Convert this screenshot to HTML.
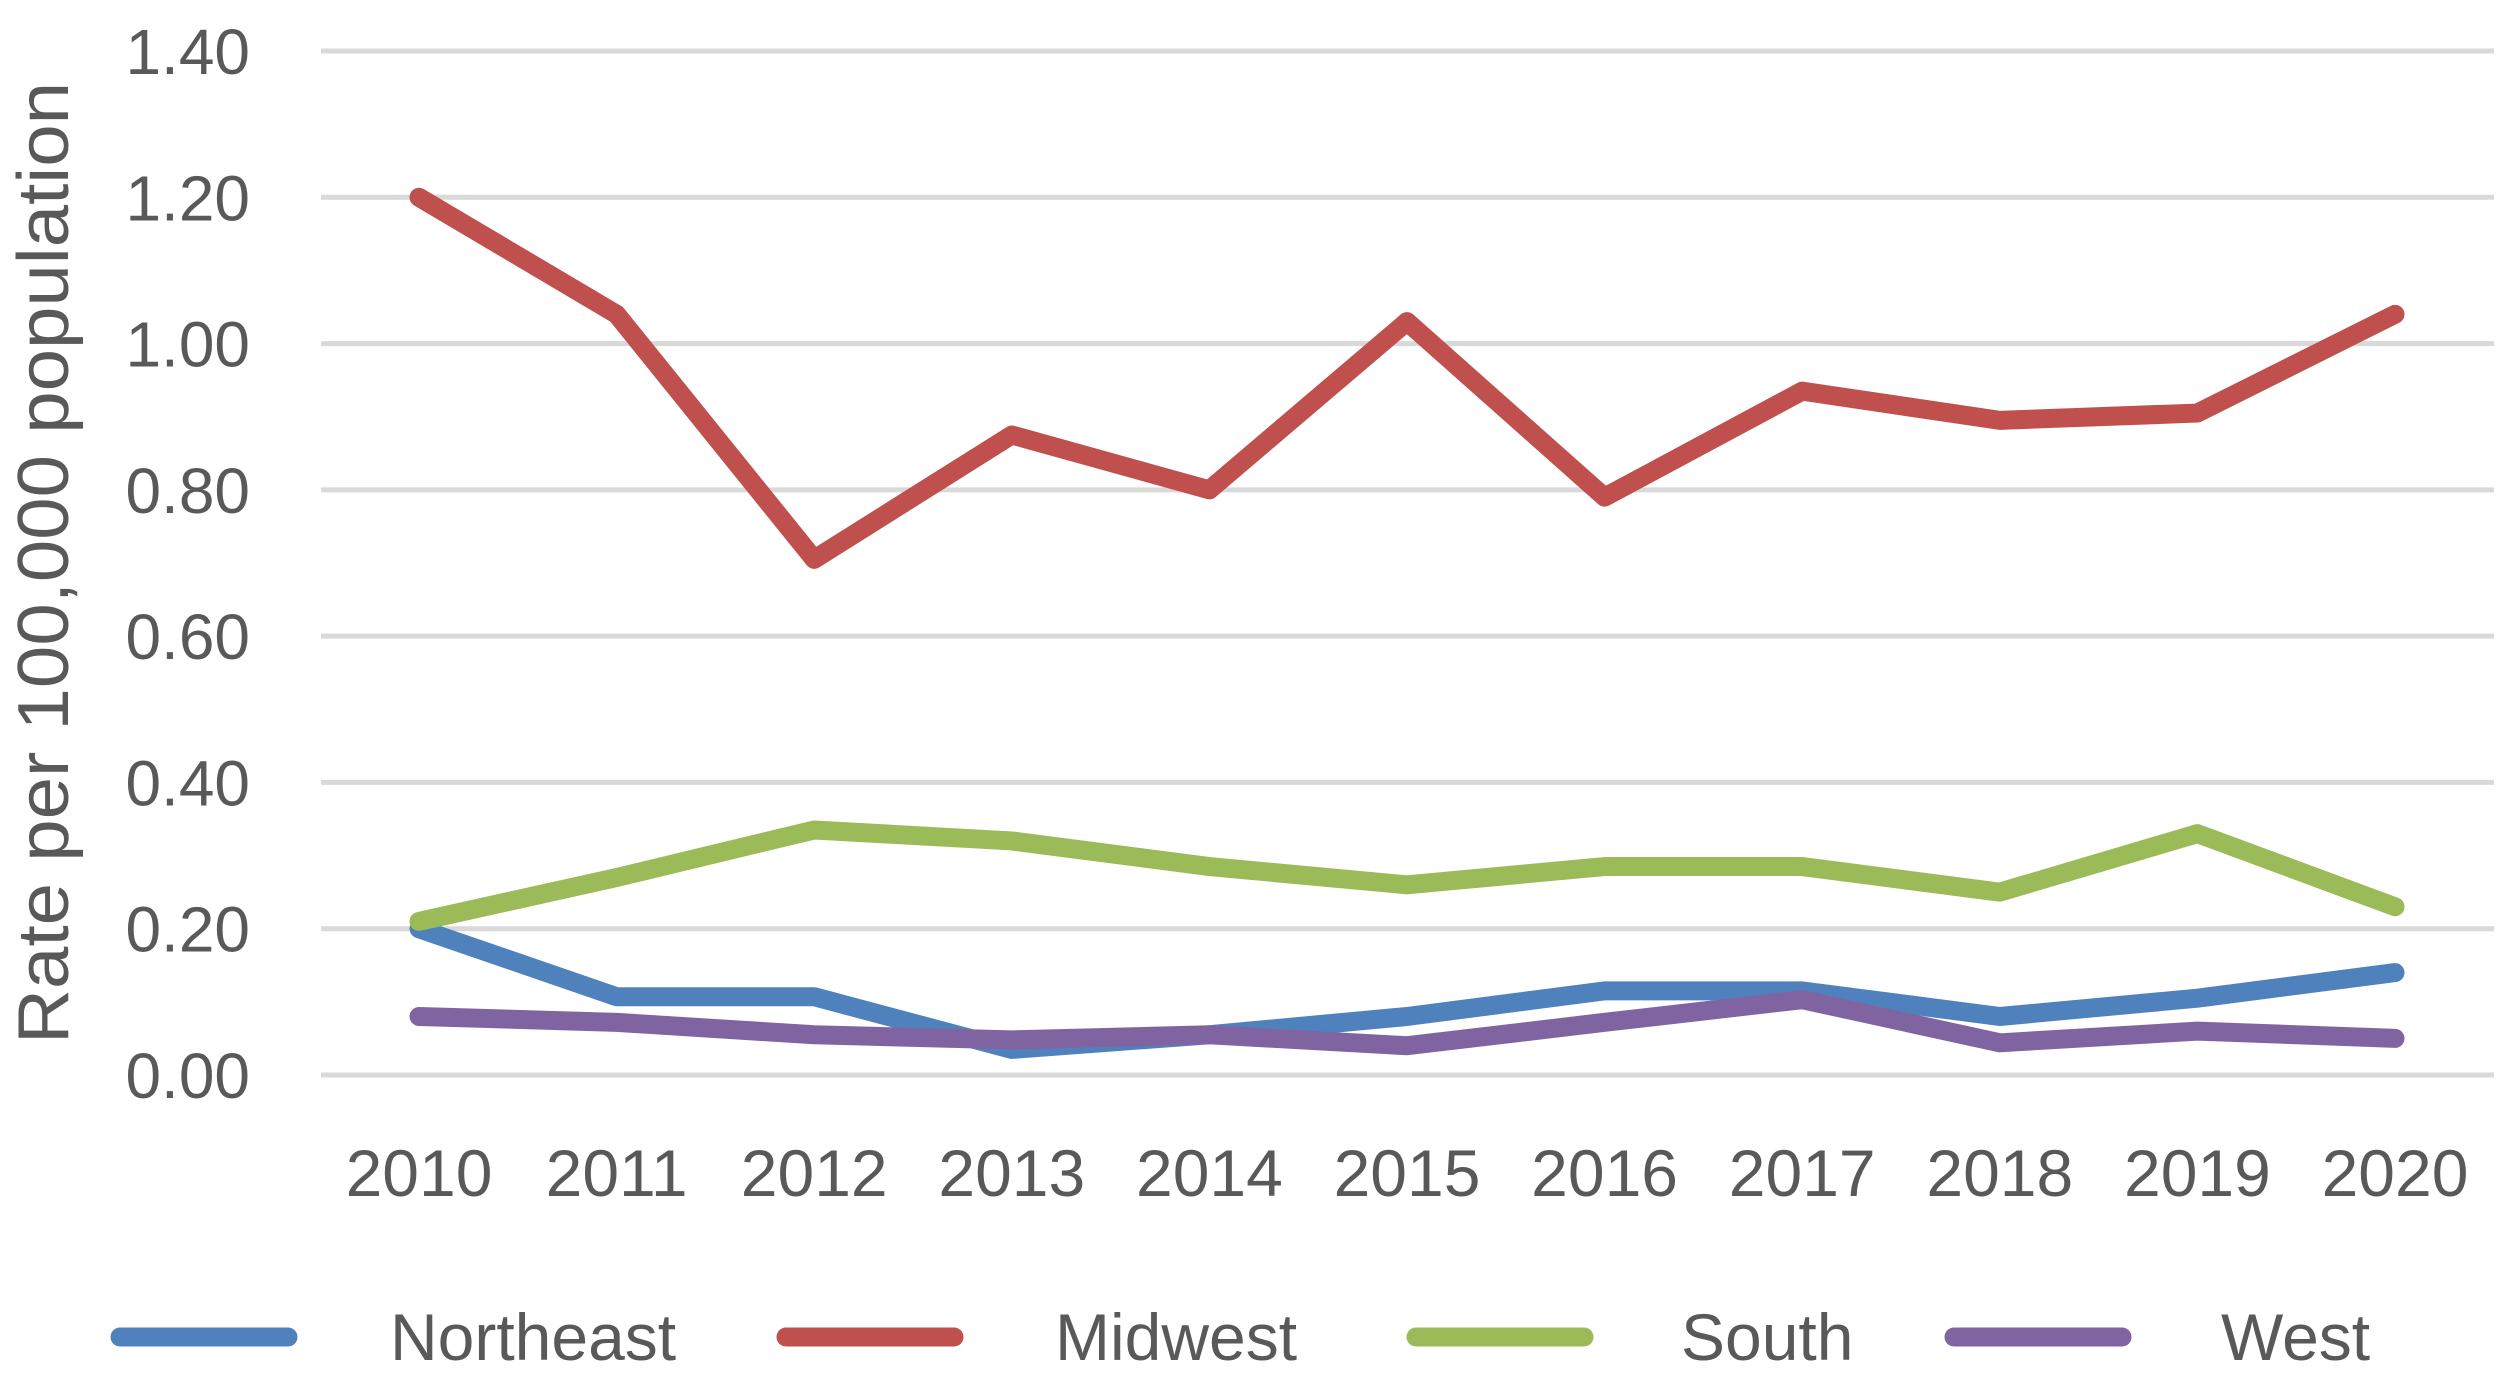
<!DOCTYPE html>
<html><head><meta charset="utf-8"><style>
html,body{margin:0;padding:0;background:#fff;}
svg{display:block;font-family:"Liberation Sans",sans-serif;}
</style></head><body>
<svg id="chart" width="2515" height="1383" viewBox="0 0 2515 1383" xmlns="http://www.w3.org/2000/svg">
<g id="grid"></g>
<g id="yticks"></g>
<g id="xticks"></g>
<g id="series"></g>
<text transform="translate(68,563) rotate(-90)" text-anchor="middle" font-size="72" fill="#595959" textLength="962" lengthAdjust="spacingAndGlyphs">Rate per 100,000 population</text>
<g id="legend"></g>
</svg>
<script>
const categories = ["2010","2011","2012","2013","2014","2015","2016","2017","2018","2019","2020"];
const yTicks = [0,0.2,0.4,0.6,0.8,1.0,1.2,1.4];
const yTickLabels = ["0.00","0.20","0.40","0.60","0.80","1.00","1.20","1.40"];
const seriesNames = ["Northeast","Midwest","South","West"];
const northeast = [0.20,0.107,0.107,0.035,0.055,0.08,0.115,0.115,0.08,0.105,0.14];
const midwest = [1.20,1.04,0.705,0.875,0.80,1.03,0.79,0.935,0.895,0.905,1.04];
const south = [0.21,0.27,0.335,0.32,0.285,0.26,0.285,0.285,0.25,0.33,0.23];
const west = [0.08,0.072,0.055,0.048,0.055,0.04,0.072,0.103,0.044,0.06,0.05];

const colors = ["#4F81BD","#C0504D","#9BBB59","#8064A2"];
const allSeries = [northeast, midwest, south, west];
const NS = "http://www.w3.org/2000/svg";
const plotL = 321, plotR = 2494, y0 = 1075, yTop = 51, yMax = 1.4;
const x0 = 419, x1 = 2395;
function xScale(i){ return x0 + (x1 - x0) * i / (categories.length - 1); }
function yScale(v){ return y0 - (y0 - yTop) * v / yMax; }
function mk(tag, attrs, parent){ const e = document.createElementNS(NS, tag); for (const k in attrs) e.setAttribute(k, attrs[k]); parent.appendChild(e); return e; }

const grid = document.getElementById('grid');
const yt = document.getElementById('yticks');
yTicks.forEach((v, i) => {
  const l = mk('line', {x1: plotL, x2: plotR, y1: yScale(v), y2: yScale(v), stroke: '#d9d9d9', 'stroke-width': 5}, grid);
  
  
  const t = mk('text', {x: 250, y: yScale(v) + 23, 'text-anchor': 'end', 'font-size': 64, fill: '#595959'}, yt);
  t.textContent = yTickLabels[i];
  
  
});
const xt = document.getElementById('xticks');
categories.forEach((c, i) => {
  const t = mk('text', {x: xScale(i), y: 1196, 'text-anchor': 'middle', 'font-size': 66, fill: '#595959'}, xt);
  t.textContent = c;
  
  
});
const sg = document.getElementById('series');
allSeries.forEach((s, k) => {
  const pts = s.map((v, i) => xScale(i) + ',' + yScale(v)).join(' ');
  const p = mk('polyline', {points: pts, fill: 'none', stroke: colors[k], 'stroke-width': 19, 'stroke-linejoin': 'round', 'stroke-linecap': 'round'}, sg);
  
  
});
const lg = document.getElementById('legend');
const legLineX = [120, 786, 1416, 1954];
const legTextX = [390, 1055, 1681, 2221];
seriesNames.forEach((n, k) => {
  const g = mk('g', {}, lg);
  
  
  mk('line', {x1: legLineX[k], x2: legLineX[k] + 168, y1: 1337, y2: 1337, stroke: colors[k], 'stroke-width': 19, 'stroke-linecap': 'round'}, g);
  const t = mk('text', {x: legTextX[k], y: 1360, 'font-size': 66, fill: '#595959'}, g);
  t.textContent = n;
});
</script>
</body></html>
